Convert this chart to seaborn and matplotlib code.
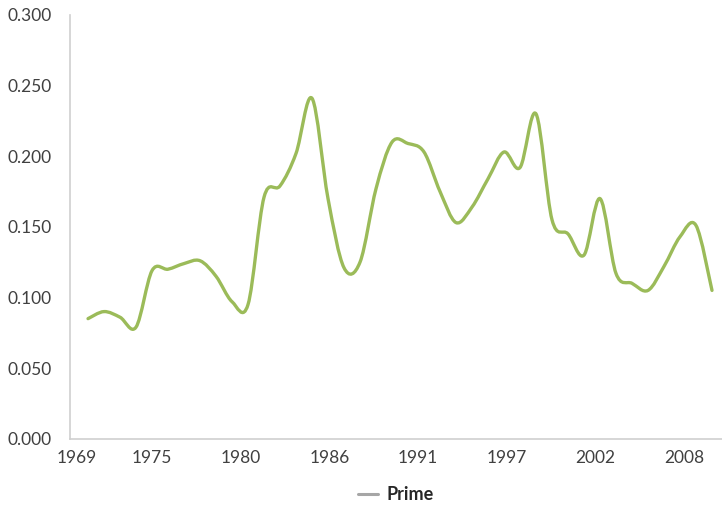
import numpy as np
import matplotlib
matplotlib.use("Agg")
import matplotlib.pyplot as plt
from matplotlib.path import Path
from matplotlib.patches import PathPatch
from matplotlib.lines import Line2D
import seaborn as sns

# data
years = list(range(1971, 2011))
prime = [0.085, 0.090, 0.086, 0.079, 0.119, 0.120, 0.124, 0.126, 0.115, 0.097,
         0.095, 0.171, 0.179, 0.202, 0.241, 0.170, 0.121, 0.125, 0.177, 0.210,
         0.209, 0.203, 0.175, 0.153, 0.164, 0.184, 0.203, 0.192, 0.230, 0.155,
         0.145, 0.130, 0.170, 0.117, 0.110, 0.105, 0.122, 0.143, 0.151, 0.105]
tick_labels = ['1969', '1975', '1980', '1986', '1991', '1997', '2002', '2008']
series_name = 'Prime'

GREEN = '#9bbb59'
GRAY = '#a6a6a6'
TEXT = '#404040'

sns.set_theme(style='white')
plt.rcParams['font.family'] = ['Lato', 'DejaVu Sans']

fig = plt.figure(figsize=(7.22, 5.05), dpi=100)
ax = fig.add_axes([0.097, 0.1313, 0.903, 0.839])


def smooth_path(xs, ys):
    """Excel-style smoothed line: Catmull-Rom segments as cubic Beziers."""
    pts = np.column_stack([xs, ys]).astype(float)
    ext = np.vstack([pts[0], pts, pts[-1]])
    verts = [pts[0]]
    codes = [Path.MOVETO]
    for i in range(1, len(ext) - 2):
        p0, p1, p2, p3 = ext[i - 1], ext[i], ext[i + 1], ext[i + 2]
        verts += [p1 + (p2 - p0) / 6, p2 - (p3 - p1) / 6, p2]
        codes += [Path.CURVE4] * 3
    return Path(verts, codes)


ax.add_patch(PathPatch(smooth_path(years, prime), facecolor='none',
                       edgecolor=GREEN, lw=2.4, capstyle='round',
                       joinstyle='round'))

x_left, x_right = 1969.875, 2010.625
ax.set_xlim(x_left, x_right)
ax.set_ylim(0, 0.3)

# date-style ticks, ~5.54 years apart; first one nudged inside like Excel does
tick_pos = [1975 + 5.54 * (k - 1) for k in range(len(tick_labels))]
tick_pos[0] = x_left + 0.45
ax.set_xticks(tick_pos)
ax.set_xticklabels(tick_labels)
ax.set_yticks(np.arange(0, 0.301, 0.05))
ax.yaxis.set_major_formatter(matplotlib.ticker.FormatStrFormatter('%.3f'))

ax.tick_params(axis='both', length=0, labelsize=12.5, labelcolor=TEXT)
ax.tick_params(axis='y', pad=13)
ax.tick_params(axis='x', pad=8)
ax.grid(False)

for side in ['top', 'right']:
    ax.spines[side].set_visible(False)
for side in ['left', 'bottom']:
    ax.spines[side].set_color('#cfcfcf')
    ax.spines[side].set_linewidth(1.2)

handle = Line2D([], [], color=GRAY, lw=2.2)
leg = fig.legend([handle], [series_name], loc='center',
                 bbox_to_anchor=(0.548, 0.021), frameon=False,
                 handlelength=1.15, handletextpad=0.45,
                 prop={'size': 13, 'weight': 'bold'})
for t in leg.get_texts():
    t.set_color('#262626')

fig.savefig('out.png', dpi=100)
